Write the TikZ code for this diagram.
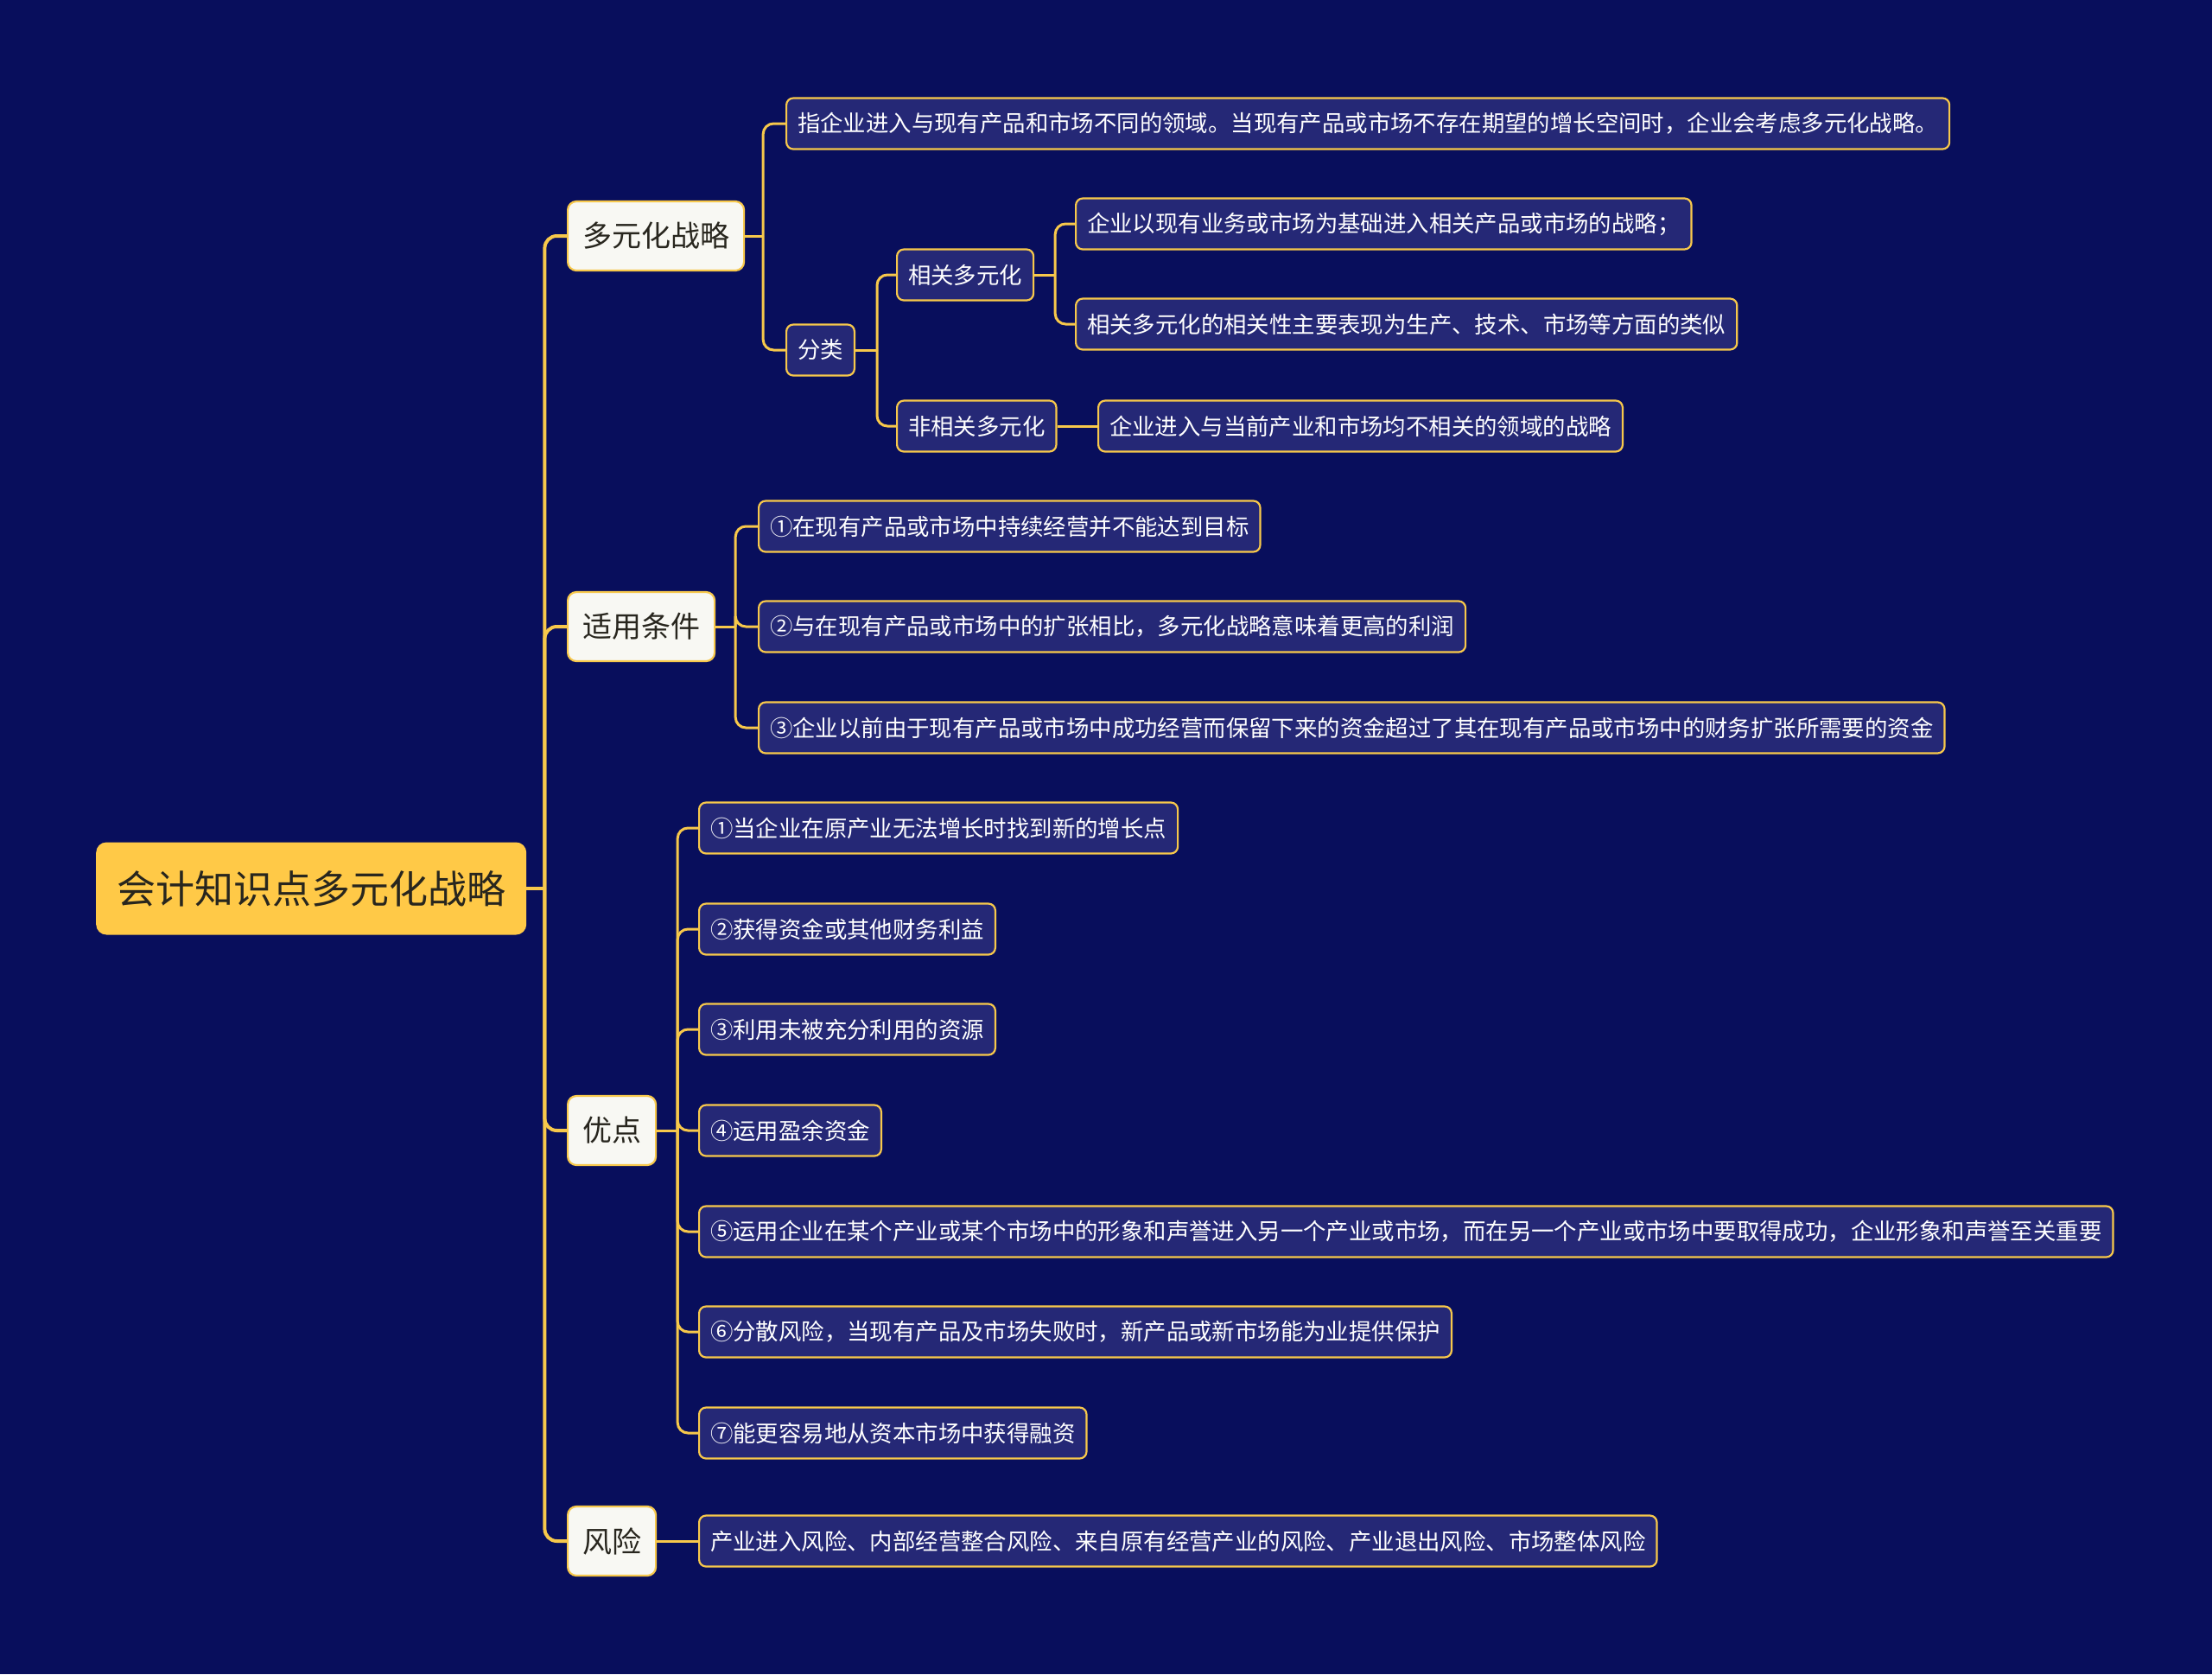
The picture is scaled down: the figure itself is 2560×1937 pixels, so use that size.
\documentclass[tikz,border=0pt]{standalone}
\usepackage{fontspec}
\newfontfamily\cjk{Noto Sans CJK SC}
\definecolor{bg}{RGB}{8,14,92}
\definecolor{leaffill}{RGB}{37,40,118}
\definecolor{yel}{RGB}{247,200,75}
\definecolor{rootfill}{RGB}{255,201,71}
\definecolor{lonefill}{RGB}{248,248,243}
\definecolor{darktext}{RGB}{40,38,30}
\tikzset{
  leaf/.style={draw=yel, line width=2.2bp, fill=leaffill, rounded corners=8bp,
    minimum height=59bp, inner xsep=13bp, inner ysep=0bp, anchor=west,
    text=white, font=\cjk\fontsize{26.4bp}{30bp}\selectfont},
  lone/.style={draw=yel, line width=2.2bp, fill=lonefill, rounded corners=10bp,
    minimum height=80bp, inner xsep=17bp, inner ysep=0bp, anchor=west,
    text=darktext, font=\cjk\fontsize{34bp}{40bp}\selectfont},
  rootbox/.style={fill=rootfill, rounded corners=12bp,
    minimum height=107bp, inner xsep=24bp, inner ysep=0bp, anchor=west,
    text=darktext, font=\cjk\fontsize{45bp}{52bp}\selectfont},
  conn/.style={draw=yel, line width=3bp, rounded corners=12bp},
  mainconn/.style={draw=yel, line width=4bp, rounded corners=14bp},
}
\begin{document}
\begin{tikzpicture}[x=1bp,y=-1bp]
\fill[bg] (0,0) rectangle (2560,1937);
\useasboundingbox (0,0) rectangle (2560,1937);

% root
\node[rootbox] (root) at (111,1028) {会计知识点多元化战略};

% level 1
\node[lone] (dy) at (656,273) {多元化战略};
\node[lone] (sy) at (656,725) {适用条件};
\node[lone] (yd) at (656,1308) {优点};
\node[lone] (fx) at (656,1783) {风险};

% 多元化战略 children
\node[leaf] (d1) at (909,143) {指企业进入与现有产品和市场不同的领域。当现有产品或市场不存在期望的增长空间时，企业会考虑多元化战略。};
\node[leaf] (fl) at (909,405) {分类};
\node[leaf] (xg) at (1037,318) {相关多元化};
\node[leaf] (fxg) at (1037,493) {非相关多元化};
\node[leaf] (r1) at (1244,259) {企业以现有业务或市场为基础进入相关产品或市场的战略；};
\node[leaf] (r2) at (1244,375) {相关多元化的相关性主要表现为生产、技术、市场等方面的类似};
\node[leaf] (u1) at (1270,493) {企业进入与当前产业和市场均不相关的领域的战略};

% 适用条件 children
\node[leaf] (c1) at (877,609) {①在现有产品或市场中持续经营并不能达到目标};
\node[leaf] (c2) at (877,725) {②与在现有产品或市场中的扩张相比，多元化战略意味着更高的利润};
\node[leaf] (c3) at (877,842) {③企业以前由于现有产品或市场中成功经营而保留下来的资金超过了其在现有产品或市场中的财务扩张所需要的资金};

% 优点 children
\node[leaf] (a1) at (808,958) {①当企业在原产业无法增长时找到新的增长点};
\node[leaf] (a2) at (808,1075) {②获得资金或其他财务利益};
\node[leaf] (a3) at (808,1191) {③利用未被充分利用的资源};
\node[leaf] (a4) at (808,1308) {④运用盈余资金};
\node[leaf] (a5) at (808,1425) {⑤运用企业在某个产业或某个市场中的形象和声誉进入另一个产业或市场，而在另一个产业或市场中要取得成功，企业形象和声誉至关重要};
\node[leaf] (a6) at (808,1541) {⑥分散风险，当现有产品及市场失败时，新产品或新市场能为业提供保护};
\node[leaf] (a7) at (808,1658) {⑦能更容易地从资本市场中获得融资};

% 风险 child
\node[leaf] (k1) at (808,1783) {产业进入风险、内部经营整合风险、来自原有经营产业的风险、产业退出风险、市场整体风险};

% connectors: root
\draw[mainconn] (root.east) -- ++(21,0) coordinate (rj);
\foreach \c in {dy,sy,yd,fx} \draw[mainconn] (rj) |- (\c.west);

% 多元化战略
\draw[conn] (dy.east) -- ++(21,0) coordinate (dyj);
\foreach \c in {d1,fl} \draw[conn] (dyj) |- (\c.west);

% 分类
\draw[conn] (fl.east) -- ++(25,0) coordinate (flj);
\foreach \c in {xg,fxg} \draw[conn] (flj) |- (\c.west);

% 相关多元化
\draw[conn] (xg.east) -- ++(24,0) coordinate (xgj);
\foreach \c in {r1,r2} \draw[conn] (xgj) |- (\c.west);

% 非相关多元化
\draw[conn] (fxg.east) -- (u1.west);

% 适用条件
\draw[conn] (sy.east) -- ++(23,0) coordinate (syj);
\foreach \c in {c1,c2,c3} \draw[conn] (syj) |- (\c.west);

% 优点
\draw[conn] (yd.east) -- ++(24,0) coordinate (ydj);
\foreach \c in {a1,a2,a3,a4,a5,a6,a7} \draw[conn] (ydj) |- (\c.west);

% 风险
\draw[conn] (fx.east) -- (k1.west);
\end{tikzpicture}
\end{document}
